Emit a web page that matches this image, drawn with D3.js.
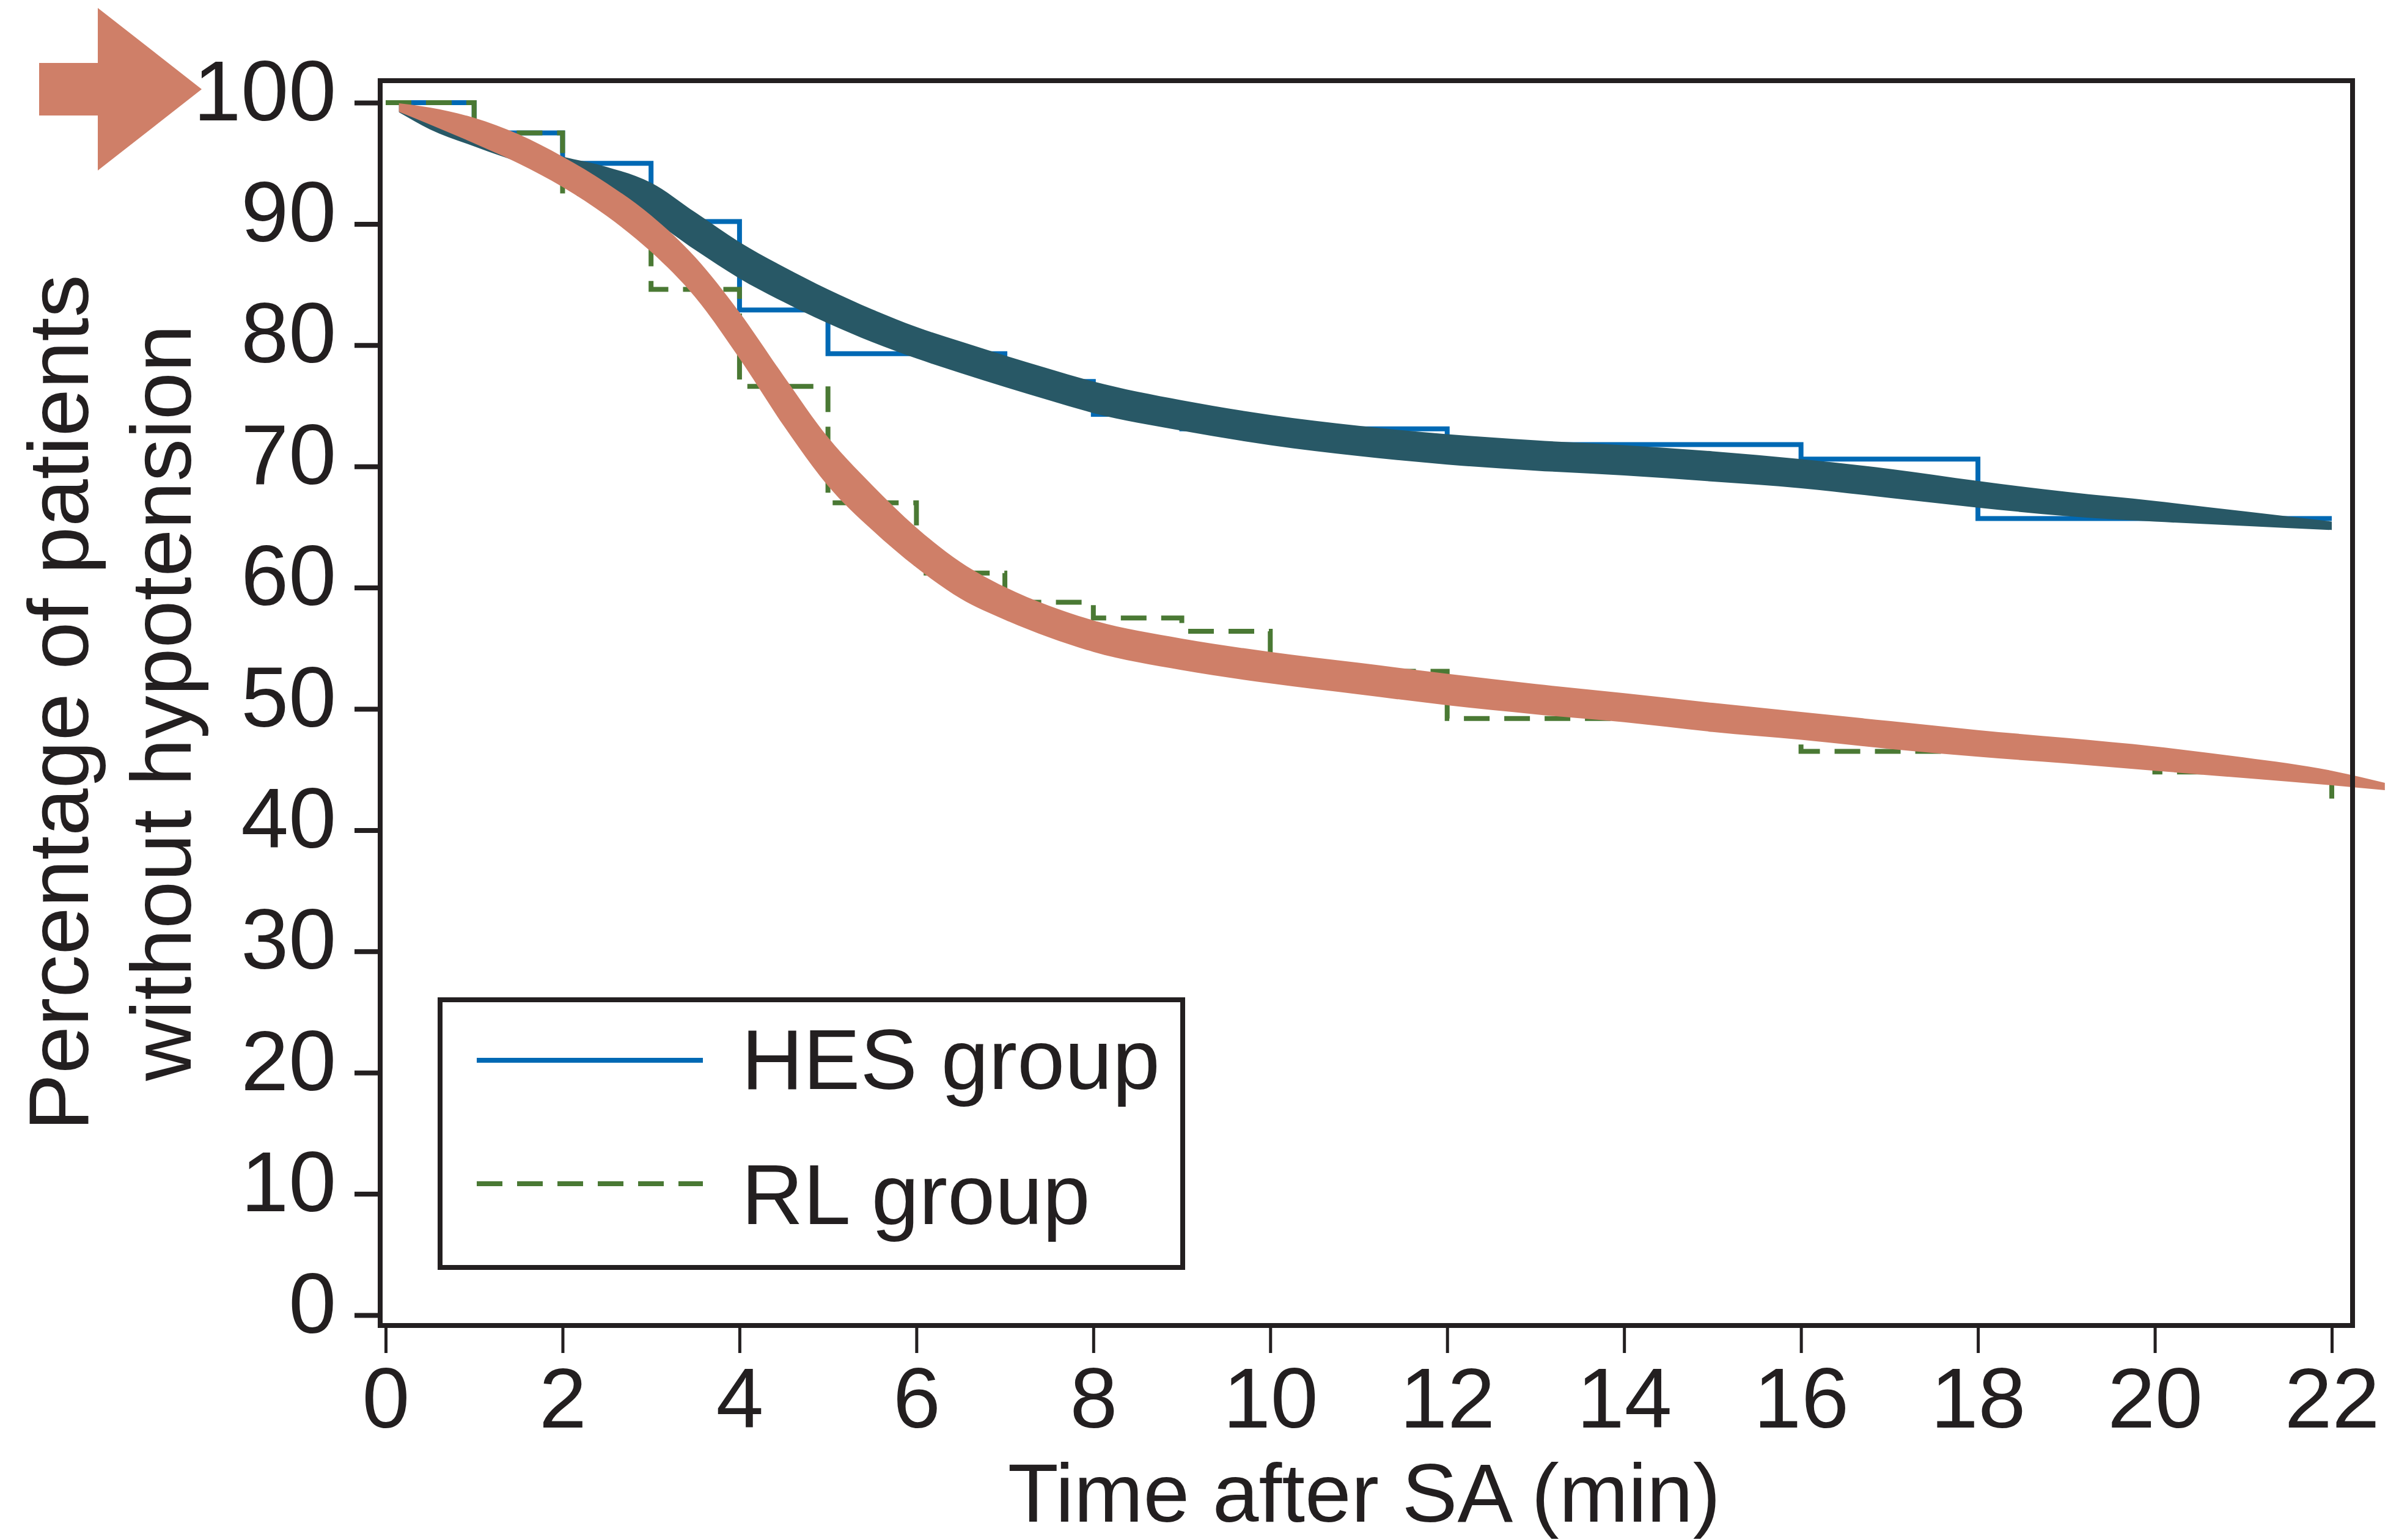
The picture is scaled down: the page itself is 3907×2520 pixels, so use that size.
<!DOCTYPE html>
<html>
<head>
<meta charset="utf-8">
<script src="https://cdn.jsdelivr.net/npm/d3@7"></script>
<style>
  body { margin: 0; background: #fff; overflow: hidden; }
  svg text { font-family: 'Liberation Sans', Arial, Helvetica, sans-serif; fill: #231f20; }
</style>
</head>
<body>
<script>
// Kaplan-Meier steps (percentage without hypotension)
const hesStepTimes = [0, 1, 2, 3, 4, 5, 7, 8, 9, 12, 16, 18, 22]
const hesStepValues = [100, 97.5, 95, 90.2, 82.9, 79.3, 77.0, 74.3, 73.1, 71.8, 70.6, 65.7, 65.7]
const rlStepTimes = [0, 1, 2, 3, 4, 5, 6, 7, 8, 9, 10, 12, 16, 20, 22]
const rlStepValues = [100, 97.5, 92.5, 84.6, 76.6, 67.0, 61.2, 58.8, 57.5, 56.4, 53.1, 49.2, 46.5, 44.8, 42.6]

// fitted curves (centre and half spread of the bundle, in %)
const hesFitTimes = [0.15, 0.5, 1, 1.5, 2, 2.5, 3, 3.5, 4, 4.5, 5, 5.5, 6, 6.5, 7, 7.5, 8, 9, 10, 11, 12, 13, 14, 15, 16, 17, 18, 19, 20, 21, 22]
const hesFit = [99.5, 98.3, 97.0, 95.8, 94.7, 93.6, 91.9, 89.4, 87.0, 85.0, 83.2, 81.6, 80.2, 79.0, 77.85, 76.75, 75.7, 74.2, 73.0, 72.1, 71.4, 70.9, 70.5, 70.0, 69.4, 68.6, 67.7, 66.9, 66.3, 65.7, 65.1]
const hesSpread = [0.3, 0.5, 0.6, 0.7, 0.85, 1.1, 1.5, 1.55, 1.5, 1.45, 1.4, 1.35, 1.3, 1.3, 1.3, 1.3, 1.3, 1.25, 1.25, 1.25, 1.25, 1.25, 1.25, 1.25, 1.2, 1.2, 1.1, 1.0, 0.85, 0.6, 0.35]

const rlFitTimes = [0.15, 0.5, 1, 1.5, 2, 2.5, 3, 3.5, 4, 4.5, 5, 5.5, 6, 6.5, 7, 7.5, 8, 9, 10, 11, 12, 13, 14, 15, 16, 17, 18, 19, 20, 21, 22, 22.6]
const rlFit = [99.6, 98.9, 97.7, 96.2, 94.3, 92.0, 89.2, 85.6, 80.8, 75.4, 70.4, 66.6, 63.3, 60.6, 58.7, 57.2, 56.0, 54.5, 53.4, 52.5, 51.6, 50.8, 50.1, 49.3, 48.6, 47.85, 47.15, 46.55, 45.9, 45.15, 44.3, 43.6]
const rlSpread = [0.35, 0.7, 1.05, 1.2, 1.25, 1.35, 1.5, 1.65, 1.9, 2.05, 2.0, 1.85, 1.65, 1.5, 1.35, 1.3, 1.3, 1.3, 1.3, 1.3, 1.3, 1.25, 1.2, 1.2, 1.15, 1.15, 1.1, 1.05, 1.0, 0.85, 0.6, 0.3]

const xTicks = [0, 2, 4, 6, 8, 10, 12, 14, 16, 18, 20, 22]
const yTicks = [0, 10, 20, 30, 40, 50, 60, 70, 80, 90, 100]
const legendLabels = ['HES group', 'RL group']

const colors = {
    ink: '#231f20',
    hes: '#0069b4',
    rl: '#4a7934',
    hesFit: '#285866',
    rlFit: '#cf7f68'
}

const width = 3907
const height = 2520
const frame = { left: 622, top: 132, right: 3849, bottom: 2169 }

const svg = d3.select('body').append('svg')
    .attr('width', width)
    .attr('height', height)
    .style('background-color', '#fff')

const x = d3.scaleLinear().domain([0, 22]).range([631, 3815])
const y = d3.scaleLinear().domain([0, 100]).range([2152, 168])

// step lines
const stepLine = d3.line()
    .x(d => x(d[0]))
    .y(d => y(d[1]))
    .curve(d3.curveStepAfter)

svg.append('path')
    .datum(hesStepTimes.map((t, i) => [t, hesStepValues[i]]))
    .attr('d', stepLine)
    .attr('fill', 'none')
    .attr('stroke', colors.hes)
    .attr('stroke-width', 8)

svg.append('path')
    .datum(rlStepTimes.map((t, i) => [t, rlStepValues[i]]))
    .attr('d', stepLine)
    .attr('fill', 'none')
    .attr('stroke', colors.rl)
    .attr('stroke-width', 8)
    .attr('stroke-dasharray', '42,24')

// fitted bundles
const band = d3.area()
    .x(d => x(d.t))
    .y0(d => y(d.v - d.s))
    .y1(d => y(d.v + d.s))
    .curve(d3.curveMonotoneX)

svg.append('path')
    .datum(hesFitTimes.map((t, i) => ({ t, v: hesFit[i], s: hesSpread[i] })))
    .attr('d', band)
    .attr('fill', colors.hesFit)

svg.append('path')
    .datum(rlFitTimes.map((t, i) => ({ t, v: rlFit[i], s: rlSpread[i] })))
    .attr('d', band)
    .attr('fill', colors.rlFit)

// frame
svg.append('rect')
    .attr('x', frame.left)
    .attr('y', frame.top)
    .attr('width', frame.right - frame.left)
    .attr('height', frame.bottom - frame.top)
    .attr('fill', 'none')
    .attr('stroke', colors.ink)
    .attr('stroke-width', 8)

// axes
const yAxis = svg.append('g')
    .attr('transform', `translate(${frame.left},0)`)
    .call(d3.axisLeft(y).tickValues(yTicks).tickSize(42).tickPadding(30))
yAxis.select('.domain').remove()
yAxis.selectAll('line').attr('stroke', colors.ink).attr('stroke-width', 8)
yAxis.selectAll('text')
    .attr('dy', '0.2em')
    .style('font-size', '140px')
    .attr('fill', colors.ink)

const xAxis = svg.append('g')
    .attr('transform', `translate(0,${frame.bottom})`)
    .call(d3.axisBottom(x).tickValues(xTicks).tickSize(45).tickPadding(23))
xAxis.select('.domain').remove()
xAxis.selectAll('line').attr('stroke', colors.ink).attr('stroke-width', 5)
xAxis.selectAll('text')
    .style('font-size', '140px')
    .attr('fill', colors.ink)

// axis titles
svg.append('text')
    .attr('x', 2232)
    .attr('y', 2490)
    .attr('text-anchor', 'middle')
    .style('font-size', '136px')
    .text('Time after SA (min)')

const yTitle = svg.append('text')
    .attr('transform', 'translate(144,1150) rotate(-90)')
    .attr('text-anchor', 'middle')
    .style('font-size', '140px')
yTitle.append('tspan').attr('x', 0).attr('y', 0).text('Percentage of patients')
yTitle.append('tspan').attr('x', 0).attr('y', 168).text('without hypotension')

// legend
const legend = svg.append('g')
legend.append('rect')
    .attr('x', 720)
    .attr('y', 1636)
    .attr('width', 1215)
    .attr('height', 438)
    .attr('fill', '#fff')
    .attr('stroke', colors.ink)
    .attr('stroke-width', 8)

const legendRows = [
    { label: legendLabels[0], color: colors.hes, dash: null, ly: 1735, ty: 1782 },
    { label: legendLabels[1], color: colors.rl, dash: '42,24', ly: 1937, ty: 2003 }
]
legendRows.forEach(r => {
    legend.append('line')
        .attr('x1', 780).attr('x2', 1150)
        .attr('y1', r.ly).attr('y2', r.ly)
        .attr('stroke', r.color)
        .attr('stroke-width', 8)
        .attr('stroke-dasharray', r.dash)
    legend.append('text')
        .attr('x', 1213)
        .attr('y', r.ty)
        .style('font-size', '140px')
        .text(r.label)
})

// arrow pointing at the 100 label
const tipY = y(100) - 22
svg.append('polygon')
    .attr('points', [
        [64, tipY - 43], [160, tipY - 43], [160, tipY - 133], [330, tipY],
        [160, tipY + 133], [160, tipY + 43], [64, tipY + 43]
    ].map(p => p.join(',')).join(' '))
    .attr('fill', colors.rlFit)
</script>
</body>
</html>
